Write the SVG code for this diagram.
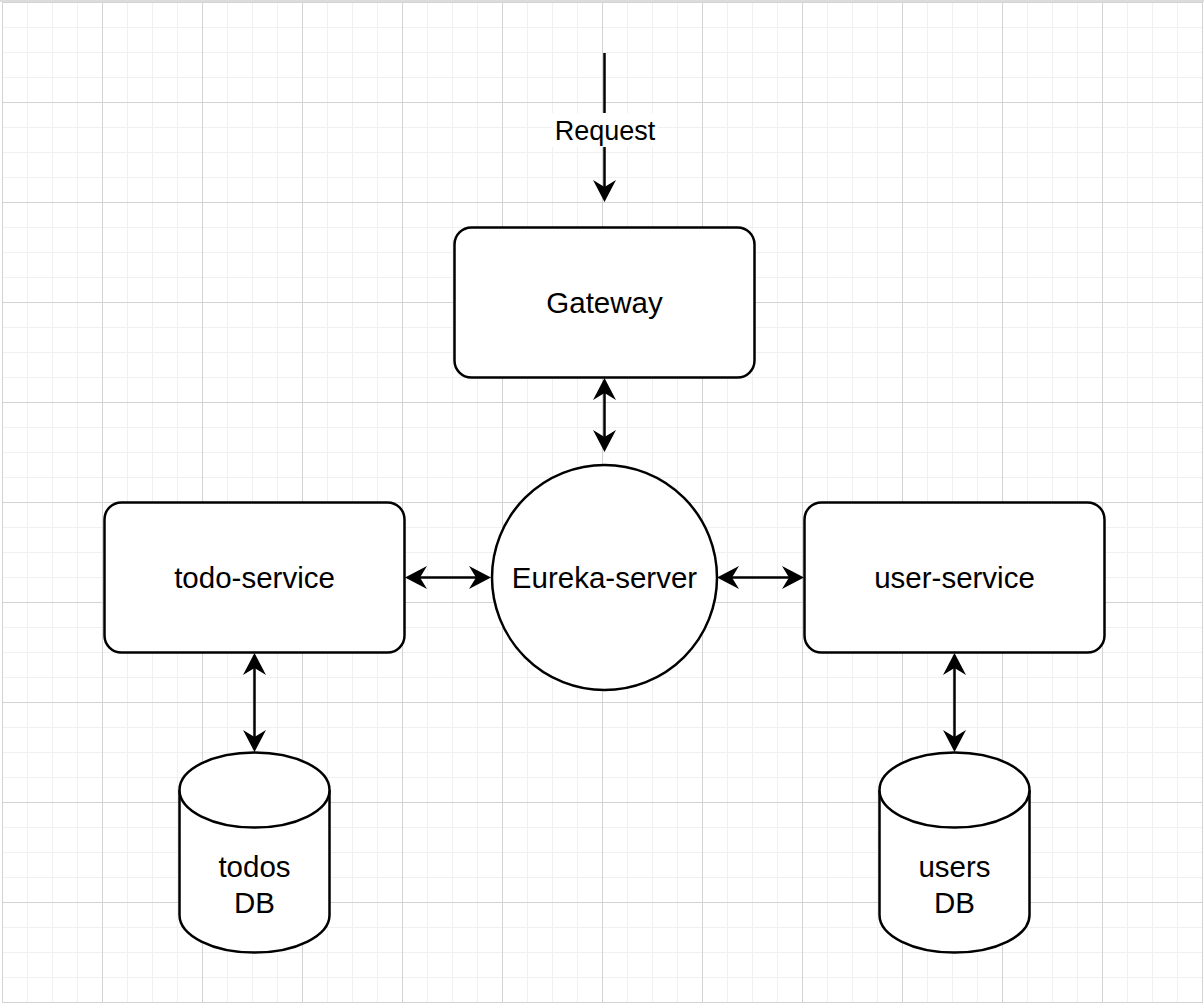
<svg xmlns="http://www.w3.org/2000/svg" width="1204" height="1004" viewBox="0 0 1204 1004">
  <style>
    .node { fill: #ffffff; stroke: #000000; stroke-width: 2.5; }
    .label { font-family: "Liberation Sans", Arial, sans-serif; font-size: 29.5px; fill: #000000; text-anchor: middle; }
    .edge { stroke: #000000; stroke-width: 2.5; fill: none; }
    .elabel { font-family: "Liberation Sans", Arial, sans-serif; font-size: 27px; fill: #000000; text-anchor: middle; }
  </style>
  <defs>
    <pattern id="minor" x="2" y="2" width="25" height="25" patternUnits="userSpaceOnUse">
      <path d="M0.5 0 V25 M0 0.5 H25" stroke="#f0f0f0" stroke-width="1" fill="none"/>
    </pattern>
    <pattern id="major" x="2" y="2" width="100" height="100" patternUnits="userSpaceOnUse">
      <path d="M0.5 0 V100 M0 0.5 H100" stroke="#d3d3d3" stroke-width="1" fill="none"/>
    </pattern>
    <marker id="arrow" viewBox="-24 -12 26 24" refX="-15" refY="0" markerWidth="26" markerHeight="24" markerUnits="userSpaceOnUse" orient="auto-start-reverse">
      <path d="M0 0 L-22 -11.5 L-15 0 L-22 11.5 Z" fill="#000000"/>
    </marker>
  </defs>

  <rect x="0" y="0" width="1204" height="1004" fill="#ffffff"/>
  <rect x="2" y="2" width="1201" height="1001" fill="url(#minor)"/>
  <rect x="2" y="2" width="1201" height="1001" fill="url(#major)"/>
  <path d="M0 1 H1204" stroke="#dcdcdc" stroke-width="2"/>

  <g id="connectors">
    <g id="edge-request">
      <path class="edge" d="M604.5 53 V187" marker-end="url(#arrow)"/>
      <rect x="552" y="113" width="106" height="34" fill="#ffffff"/>
      <text class="elabel" x="605" y="139.5">Request</text>
    </g>
    <path id="edge-gateway-eureka" class="edge" d="M604.5 393 V437" marker-start="url(#arrow)" marker-end="url(#arrow)"/>
    <path id="edge-todo-eureka" class="edge" d="M420 577.5 H476" marker-start="url(#arrow)" marker-end="url(#arrow)"/>
    <path id="edge-eureka-user" class="edge" d="M732 577.5 H789" marker-start="url(#arrow)" marker-end="url(#arrow)"/>
    <path id="edge-todo-db" class="edge" d="M254.5 668 V737" marker-start="url(#arrow)" marker-end="url(#arrow)"/>
    <path id="edge-user-db" class="edge" d="M954.5 668 V737" marker-start="url(#arrow)" marker-end="url(#arrow)"/>
  </g>

  <g id="gateway">
    <rect class="node" x="454.5" y="227.5" width="300" height="150" rx="17" ry="17"/>
    <text class="label" x="604.5" y="313">Gateway</text>
  </g>

  <g id="eureka-server">
    <circle class="node" cx="604.5" cy="577.5" r="112.5"/>
    <text class="label" x="604.5" y="588">Eureka-server</text>
  </g>

  <g id="todo-service">
    <rect class="node" x="104.5" y="502.5" width="300" height="150" rx="17" ry="17"/>
    <text class="label" x="254.5" y="588">todo-service</text>
  </g>

  <g id="user-service">
    <rect class="node" x="804.5" y="502.5" width="300" height="150" rx="17" ry="17"/>
    <text class="label" x="954.5" y="588">user-service</text>
  </g>

  <g id="todos-db">
    <path class="node" d="M179.5 790 A75 37.5 0 0 1 329.5 790 V915 A75 37.5 0 0 1 179.5 915 Z"/>
    <path class="node" d="M179.5 790 A75 37.5 0 0 0 329.5 790" fill="none"/>
    <text class="label" x="254.5" y="877">todos</text>
    <text class="label" x="254.5" y="913">DB</text>
  </g>

  <g id="users-db">
    <path class="node" d="M879.5 790 A75 37.5 0 0 1 1029.5 790 V915 A75 37.5 0 0 1 879.5 915 Z"/>
    <path class="node" d="M879.5 790 A75 37.5 0 0 0 1029.5 790" fill="none"/>
    <text class="label" x="954.5" y="877">users</text>
    <text class="label" x="954.5" y="913">DB</text>
  </g>
</svg>
